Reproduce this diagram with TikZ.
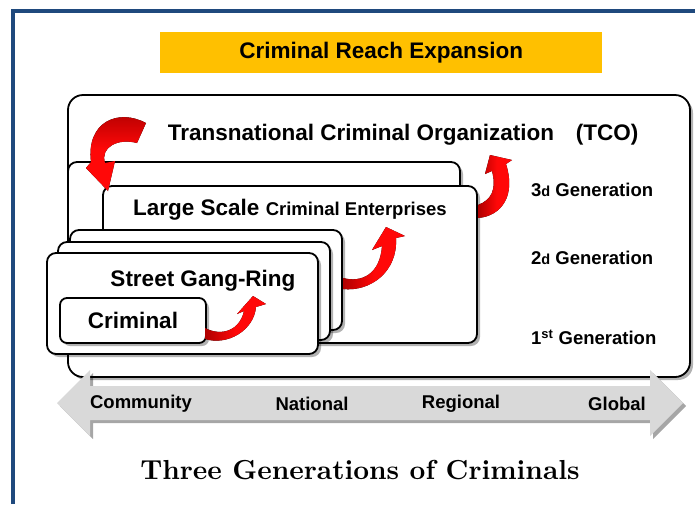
\documentclass[tikz,border=0pt]{standalone}
\usepackage{fontspec}
\newfontfamily\arialf{Liberation Sans}
\newfontfamily\capfont{lmroman10-bold}[Extension=.otf]
\usetikzlibrary{shadows,positioning}
\definecolor{frameblue}{RGB}{31,73,125}
\definecolor{reachyellow}{RGB}{255,192,0}
\definecolor{darkreach}{RGB}{175,0,0}
\definecolor{brightreach}{RGB}{255,8,8}
\definecolor{axisgray}{RGB}{217,217,217}
\newcommand{\gsuf}[1]{{\fontsize{14.5}{14.5}\selectfont #1}}

\begin{document}
\begin{tikzpicture}[x=1pt,y=-1pt]
\tikzstyle{levelbox}=[draw=black,line width=1.8pt,rounded corners=9pt,fill=white,anchor=north west,inner sep=0pt,outer sep=0pt,drop shadow={shadow xshift=3pt,shadow yshift=-3pt,opacity=.3,fill=black}]
\tikzstyle{bigtxt}=[font=\arialf\bfseries\fontsize{22.5}{26}\selectfont,inner sep=0pt]
\tikzstyle{gentxt}=[font=\arialf\bfseries\fontsize{18.5}{22}\selectfont,inner sep=0pt,anchor=west]
\tikzstyle{reach}=[left color=darkreach,right color=brightreach,middle color=brightreach,draw=none]

\useasboundingbox (0,0) rectangle (695,504);
\fill[white] (0,0) rectangle (695,504);
\draw[frameblue,line width=4pt] (12.5,504) -- (12.5,10.5) -- (695,10.5);

\node[fill=reachyellow,minimum width=442pt,minimum height=41pt,inner sep=0pt,anchor=north west] (head) at (160,32) {};
\node[bigtxt] (headtxt) at (head.center) {Criminal Reach Expansion};

\node[levelbox,rounded corners=15pt,minimum width=622pt,minimum height=282pt] (tco) at (68,95) {};
\node[bigtxt] (tcotxt) at (361,135) {Transnational Criminal Organization};
\node[bigtxt] (tcoabbr) at (607,135) {(TCO)};

\node[levelbox,minimum width=392pt,minimum height=178pt] (gen3) at (68,162) {};
\node[levelbox,minimum width=374pt,minimum height=157pt] (lse) at (103,186) {};
\node[font=\arialf\bfseries\fontsize{22.5}{26}\selectfont,inner sep=0pt,anchor=west] (lsetxt) at (133,210) {Large Scale {\fontsize{18.5}{22}\selectfont Criminal Enterprises}};

\node[levelbox,minimum width=272pt,minimum height=100pt] (sg3) at (70,230) {};
\node[levelbox,minimum width=272pt,minimum height=98pt] (sg2) at (58,242) {};
\node[levelbox,minimum width=271pt,minimum height=101pt] (sg1) at (47,253) {};
\node[bigtxt] (sgtxt) at (203,281) {Street Gang-Ring};

\node[levelbox,rounded corners=7pt,minimum width=146pt,minimum height=45pt] (crim) at (60,298) {};
\node[bigtxt] (crimtxt) at (crim.center) {Criminal};

\node[gentxt] (g3) at (531,190) {3\gsuf{d} Generation};
\node[gentxt] (g2) at (531,258) {2\gsuf{d} Generation};
\node[gentxt] (g1) at (531,337) {1\textsuperscript{st} Generation};

\fill[reach] (205,328) .. controls (222,337) and (240,330) .. (244,311) -- (237,314) -- (253,296) -- (266,304) -- (256,307) .. controls (254,330) and (228,346) .. (205,339) -- cycle;
\fill[reach] (343,278) .. controls (362,283) and (380,274) .. (382,246) -- (372,250) -- (386,227) -- (405,236) -- (396,238) .. controls (398,272) and (370,292) .. (343,289) -- cycle;
\fill[reach] (478,205) .. controls (491,200) and (497,190) .. (492,171) -- (485,174) -- (490,155) -- (512,160) -- (506,164) .. controls (516,195) and (502,216) .. (478,218) -- cycle;
\fill[reach,top color=darkreach,bottom color=brightreach,middle color=brightreach] (146,123) .. controls (118,108) and (86,122) .. (91,162) -- (86,168) -- (108,191) -- (115,161) -- (105,163) .. controls (100,147) and (118,138) .. (137,143) -- cycle;

\fill[axisgray,drop shadow={shadow xshift=3pt,shadow yshift=-3pt,opacity=.35,fill=black}] (57,403) -- (90,370) -- (90,386) -- (650,386) -- (650,370) -- (683,403) -- (650,436) -- (650,420) -- (90,420) -- (90,436) -- cycle;
\node[gentxt,anchor=center] (comm) at (141,404) {Community};
\node[gentxt,anchor=center] (natl) at (312,404) {National};
\node[gentxt,anchor=center] (regl) at (461,404) {Regional};
\node[gentxt,anchor=center] (glob) at (617,404) {Global};

\node[font=\capfont\fontsize{27.5}{32}\selectfont,inner sep=0pt] (caption) at (360,470) {Three Generations of Criminals};
\end{tikzpicture}
\end{document}
